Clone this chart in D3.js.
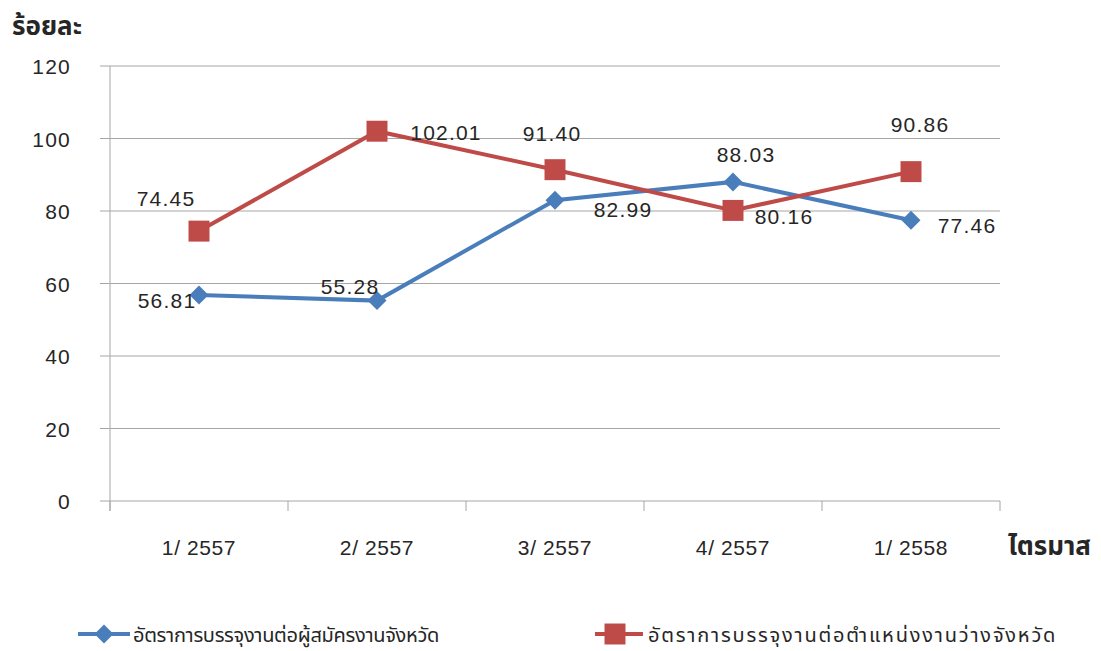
<html lang="th">
<head>
    <meta charset="UTF-8">
    <title>Line chart</title>
    <script src="https://d3js.org/d3.v7.min.js"></script>
    <style>
        body, html { margin: 0; padding: 0; background: #fff; }
        text { font-family: "Liberation Sans", Arial, sans-serif; fill: #262626; }
        .num { font-size: 21px; letter-spacing: 1.2px; }
        .thai { font-family: "Noto Sans Thai", "Noto Sans", "DejaVu Sans", sans-serif; }
    </style>
</head>
<body>
<div id="chart"></div>
<script>
    const quarters = ["1/ 2557", "2/ 2557", "3/ 2557", "4/ 2557", "1/ 2558"];
    const applicantRate = [56.81, 55.28, 82.99, 88.03, 77.46];
    const vacancyRate = [74.45, 102.01, 91.40, 80.16, 90.86];
    const yTicks = [0, 20, 40, 60, 80, 100, 120];
    const seriesNames = ["อัตราการบรรจุงานต่อผู้สมัครงานจังหวัด", "อัตราการบรรจุงานต่อตำแหน่งงานว่างจังหวัด"];

    // label offsets relative to the point, picked per point like the original
    const applicantLabelPos = [[-32, 13], [-27, -7], [68, 17], [13, -20], [56, 13]];
    const vacancyLabelPos = [[-33, -25], [69, 9], [-3, -29], [51, 14], [9, -40]];

    const width = 1101, height = 651;
    const margin = {left: 110, right: 101, top: 66, bottom: 150};

    const svg = d3.select("#chart").append("svg")
        .attr("width", width)
        .attr("height", height);

    const x = d3.scaleBand()
        .domain(quarters)
        .range([margin.left, width - margin.right]);

    const y = d3.scaleLinear()
        .domain([0, 120])
        .range([height - margin.bottom, margin.top]);

    // gridlines + y ticks
    svg.append("g")
        .selectAll("line")
        .data(yTicks)
        .enter().append("line")
        .attr("x1", margin.left - 10)
        .attr("x2", width - margin.right)
        .attr("y1", d => y(d))
        .attr("y2", d => y(d))
        .attr("stroke", "#a6a6a6")
        .attr("stroke-width", 1);

    svg.append("g")
        .selectAll("text")
        .data(yTicks)
        .enter().append("text")
        .attr("class", "num")
        .attr("x", 71)
        .attr("y", d => y(d) + 8)
        .attr("text-anchor", "end")
        .text(d => d);

    // y axis line
    svg.append("line")
        .attr("x1", margin.left).attr("x2", margin.left)
        .attr("y1", margin.top).attr("y2", y(0) + 10)
        .attr("stroke", "#a6a6a6");

    // x tick marks at band edges
    const edges = quarters.map(q => x(q)).concat([x(quarters[quarters.length - 1]) + x.bandwidth()]);
    svg.append("g")
        .selectAll("line")
        .data(edges)
        .enter().append("line")
        .attr("x1", d => d).attr("x2", d => d)
        .attr("y1", y(0)).attr("y2", y(0) + 10)
        .attr("stroke", "#a6a6a6");

    svg.append("g")
        .selectAll("text")
        .data(quarters)
        .enter().append("text")
        .attr("class", "num")
        .attr("x", d => x(d) + x.bandwidth() / 2)
        .attr("y", 555)
        .attr("text-anchor", "middle")
        .style("letter-spacing", "0.6px")
        .text(d => d);

    // axis titles
    svg.append("text")
        .attr("class", "thai")
        .attr("x", 12).attr("y", 35)
        .style("font-size", "26px")
        .style("font-weight", "bold")
        .text("ร้อยละ");

    svg.append("text")
        .attr("class", "thai")
        .attr("x", 1008).attr("y", 555)
        .style("font-size", "26px")
        .style("font-weight", "bold")
        .text("ไตรมาส");

    const cx = (d, i) => x(quarters[i]) + x.bandwidth() / 2;
    const line = d3.line().x(cx).y(d => y(d));

    const blue = "#4a7ebb", red = "#be4b48";
    const diamond = d3.symbol().type(d3.symbolDiamond2).size(230);
    const square = d3.symbol().type(d3.symbolSquare).size(440);

    function drawSeries(values, color, shape, offsets) {
        svg.append("path")
            .datum(values)
            .attr("fill", "none")
            .attr("stroke", color)
            .attr("stroke-width", 4)
            .attr("d", line);

        svg.append("g")
            .selectAll("path")
            .data(values)
            .enter().append("path")
            .attr("d", shape === "diamond" ? diamond : square)
            .attr("transform", (d, i) => `translate(${cx(d, i)},${y(d)})`)
            .attr("fill", color);

        svg.append("g")
            .selectAll("text")
            .data(values)
            .enter().append("text")
            .attr("class", "num")
            .attr("x", (d, i) => cx(d, i) + offsets[i][0])
            .attr("y", (d, i) => y(d) + offsets[i][1])
            .attr("text-anchor", "middle")
            .text(d => d.toFixed(2));
    }

    drawSeries(applicantRate, blue, "diamond", applicantLabelPos);
    drawSeries(vacancyRate, red, "square", vacancyLabelPos);

    // legend
    const legend = [
        {name: seriesNames[0], color: blue, shape: "diamond", x: 78},
        {name: seriesNames[1], color: red, shape: "square", x: 595}
    ];
    const lg = svg.append("g").selectAll("g")
        .data(legend)
        .enter().append("g")
        .attr("transform", d => `translate(${d.x},634)`);

    lg.append("line")
        .attr("x1", 0).attr("x2", d => d.shape === "diamond" ? 52 : 48)
        .attr("y1", 0).attr("y2", 0)
        .attr("stroke", d => d.color)
        .attr("stroke-width", 4);

    lg.append("path")
        .attr("d", d => d.shape === "diamond" ? diamond() : square())
        .attr("transform", d => `translate(${d.shape === "diamond" ? 26 : 20},0)`)
        .attr("fill", d => d.color);

    lg.append("text")
        .attr("class", "thai")
        .attr("x", d => d.shape === "diamond" ? 55 : 53)
        .attr("y", 8)
        .style("font-size", "20px")
        .style("letter-spacing", d => d.shape === "diamond" ? "-0.3px" : "1.8px")
        .text(d => d.name);
</script>
</body>
</html>
